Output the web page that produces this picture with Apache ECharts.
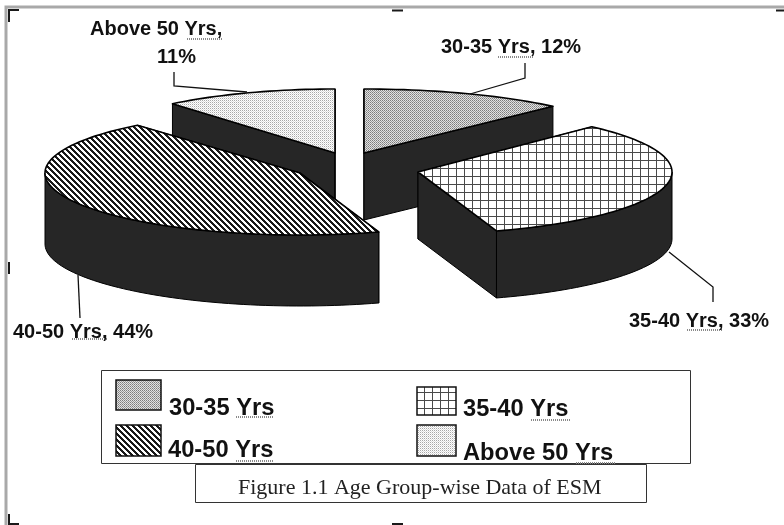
<!DOCTYPE html>
<html>
<head>
<meta charset="utf-8">
<title>Figure 1.1 Age Group-wise Data of ESM</title>
<style>
	html, body { margin: 0; padding: 0; background: #fff; }
	#chart { width: 784px; height: 525px; }
</style>
<script src="https://cdn.jsdelivr.net/npm/echarts@6/dist/echarts.min.js"></script>
</head>
<body>
<div id="chart"></div>
<script>
/* 資料 */
const categories = ["30-35 Yrs", "35-40 Yrs", "40-50 Yrs", "Above 50 Yrs"];
const shares = [12, 33, 44, 11];
const figureTitle = "Figure 1.1 Age Group-wise Data of ESM";

/* 版面：每片的頂點與半徑 */
const sliceApex = [[364, 153], [418, 172], [300, 173], [335, 153]];
const sliceRadiusX = [276, 254, 255, 255];
const sliceRadiusY = [64, 62, 62, 64];
const sliceDepth = [67, 67, 71, 67];
const drawOrder = [3, 0, 1, 2];
const wallColor = "#262626";

/* 花紋 */
const makeTile = (size, paint) => {
	const canvas = document.createElement("canvas");
	canvas.width = size;
	canvas.height = size;
	const ctx = canvas.getContext("2d");
	ctx.fillStyle = "#fff";
	ctx.fillRect(0, 0, size, size);
	for (let x = 0; x < size; x++) {
		for (let y = 0; y < size; y++) {
			const color = paint(x, y);
			if (color) {
				ctx.fillStyle = color;
				ctx.fillRect(x, y, 1, 1);
			}
		}
	}
	return { image: canvas, repeat: "repeat" };
};
const patterns = [
	makeTile(4, (x, y) => ((x + y) % 2 === 0 ? (x % 2 === 0 ? "#7c7c7c" : "#9a9a9a") : "#e2e2e2")),
	makeTile(8, (x, y) => (x === 0 || y === 0 ? "#4a4a4a" : null)),
	makeTile(6, (x, y) => ((x - y + 12) % 6 < 3 ? "#1a1a1a" : null)),
	makeTile(4, (x, y) => (x % 2 === 0 && y % 2 === 0 ? "#a8a8a8" : x % 2 === 1 && y % 2 === 1 ? "#dedede" : null)),
];

function renderSlice(params, api) {
	const i = api.value(0);
	const value = api.value(1);
	const total = shares.reduce((a, b) => a + b, 0);
	const before = shares.slice(0, i).reduce((a, b) => a + b, 0);
	const start = (before / total) * Math.PI * 2;
	const end = ((before + value) / total) * Math.PI * 2;
	const [ax, ay] = sliceApex[i];
	const depth = sliceDepth[i];

	const arcPoints = (from, to) => {
		const points = [];
		const steps = Math.ceil((to - from) / 0.03);
		for (let s = 0; s <= steps; s++) {
			const t = from + ((to - from) * s) / steps;
			points.push([ax + sliceRadiusX[i] * Math.sin(t), ay - sliceRadiusY[i] * Math.cos(t)]);
		}
		return points;
	};
	const arc = arcPoints(start, end);
	const down = (p) => [p[0], p[1] + depth];
	const apex = [ax, ay];
	const first = arc[0];
	const last = arc[arc.length - 1];
	const wall = (points) => ({
		type: "polygon",
		shape: { points },
		style: { fill: wallColor, stroke: "#000", lineWidth: 1 },
		silent: true,
	});
	const children = [
		wall([apex, first, down(first), down(apex)]),
		wall([apex, last, down(last), down(apex)]),
	];
	/* 只畫朝前的弧面，背面會被頂面蓋住 */
	const frontFrom = Math.max(start, Math.PI / 2);
	const frontTo = Math.min(end, Math.PI * 1.5);
	if (frontTo > frontFrom) {
		const front = arcPoints(frontFrom, frontTo);
		children.push(wall(front.concat(front.map((p) => down(p)).reverse())));
	}
	children.push({
		type: "polygon",
		shape: { points: [apex].concat(arc) },
		style: { fill: patterns[i], stroke: "#000", lineWidth: 1.6, lineJoin: "round" },
		silent: true,
	});
	return { type: "group", children };
}

/* 圖例與標籤位置 */
const labelFont = 'bold 20px "Liberation Sans", Arial, sans-serif';
const legendFont = 'bold 23.7px "Liberation Sans", Arial, sans-serif';
const dataLabels = [
	{ x: 441, y: 47, text: `${categories[0]}, ${shares[0]}%` },
	{ x: 629, y: 321, text: `${categories[1]}, ${shares[1]}%` },
	{ x: 13, y: 332, text: `${categories[2]}, ${shares[2]}%` },
	{ x: 90, y: 29, text: `${categories[3]},` },
	{ x: 157, y: 57, text: `${shares[3]}%` },
];
const leaders = [
	[[525, 63], [525, 78], [470, 94]],
	[[669, 252], [713, 287], [713, 302]],
	[[78, 275], [80, 318]],
	[[174, 72], [174, 86], [247, 92]],
];
const legendItems = [
	{ box: [116, 380, 45, 30], x: 169, y: 408.5 },
	{ box: [417, 387, 39, 28], x: 463, y: 409.5 },
	{ box: [116, 425, 45, 31], x: 168, y: 450.5 },
	{ box: [417, 425, 39, 31], x: 463, y: 453 },
];
/* 拼字檢查的波浪底線 */
const squiggles = [
	[498, 533, 57], [687, 722, 330], [72, 107, 339], [187, 222, 39],
	[236, 274, 417], [531, 570, 420], [236, 274, 461], [576, 615, 463],
];
const frameMarks = [
	[[9, 22], [9, 10], [19, 10]],
	[[392, 10.5], [403, 10.5]],
	[[776, 10.5], [784, 10.5]],
	[[9, 262], [9, 274]],
	[[9, 514], [9, 524], [19, 524]],
	[[392, 524], [403, 524]],
];

const line = (points, stroke, lineWidth, extra) => ({
	type: "polyline",
	silent: true,
	z: 5,
	shape: { points },
	style: Object.assign({ fill: null, stroke, lineWidth }, extra),
});
const text = (x, y, str, font, extra) => ({
	type: "text",
	silent: true,
	z: 6,
	x,
	y,
	style: Object.assign({ text: str, font, fill: "#111", verticalAlign: "middle" }, extra),
});

const elements = [];
/* 外框 */
elements.push(line([[6, 525], [6, 7], [784, 7]], "#a9a9a9", 3));
frameMarks.forEach((m) => elements.push(line(m, "#1a1a1a", 2)));
/* 圖說方框在圖例底下 */
elements.push({
	type: "rect",
	silent: true,
	z: 1,
	shape: { x: 195.5, y: 464.5, width: 451, height: 38 },
	style: { fill: "#fff", stroke: "#333", lineWidth: 1 },
});
elements.push({
	type: "rect",
	silent: true,
	z: 2,
	shape: { x: 101.5, y: 370.5, width: 589, height: 93 },
	style: { fill: "#fff", stroke: "#333", lineWidth: 1 },
});
elements.push(text(238, 488, figureTitle, '22px "Liberation Serif", "Times New Roman", serif', { fill: "#222" }));
leaders.forEach((p) => elements.push(line(p, "#111", 1.3)));
dataLabels.forEach((l) => elements.push(text(l.x, l.y, l.text, labelFont)));
legendItems.forEach((item, i) => {
	const [x, y, width, height] = item.box;
	elements.push({
		type: "rect",
		silent: true,
		z: 5,
		shape: { x, y, width, height },
		style: { fill: patterns[i], stroke: "#111", lineWidth: 1.5 },
	});
	elements.push(text(item.x, item.y, categories[i], legendFont));
});
squiggles.forEach(([x1, x2, y]) => elements.push(
	line([[x1, y], [x2, y]], "#8a8a8a", 2, { lineDash: [1, 1] })
));

const chart = echarts.init(document.querySelector("#chart"), null, { renderer: "canvas" });
chart.setOption({
	animation: false,
	backgroundColor: "#fff",
	series: [
		{
			type: "custom",
			coordinateSystem: "none",
			silent: true,
			renderItem: renderSlice,
			data: drawOrder.map((i) => [i, shares[i]]),
		},
	],
	graphic: { elements },
});
</script>
</body>
</html>
